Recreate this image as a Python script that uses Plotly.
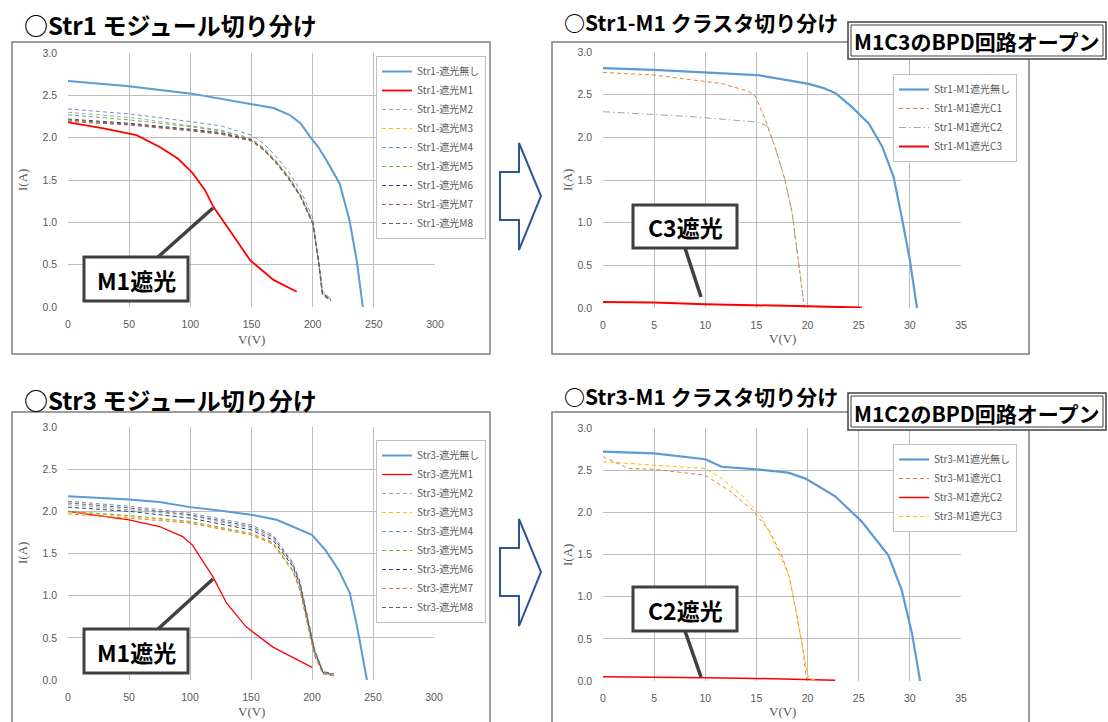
import plotly.graph_objects as go

W, H = 1108, 722

# ---------------- Panel 1 : Str1 module separation ----------------
p1_v_none = [0, 48, 101, 124, 149, 168, 181, 190, 198, 205, 211, 222, 230, 236, 241]
p1_i_none = [2.67, 2.61, 2.52, 2.46, 2.40, 2.35, 2.27, 2.17, 2.01, 1.88, 1.74, 1.46, 1.03, 0.55, 0.0]
p1_v_m1 = [0, 29, 56, 75, 90, 102, 112, 119, 130, 149, 168, 187]
p1_i_m1 = [2.18, 2.11, 2.03, 1.89, 1.75, 1.58, 1.38, 1.18, 0.95, 0.55, 0.32, 0.18]
p1_v_cluster = [0, 50, 100, 125, 150, 160, 170, 180, 190, 200, 205, 208, 215]
p1_i_m2 = [2.30, 2.24, 2.14, 2.09, 1.99, 1.88, 1.73, 1.55, 1.33, 1.02, 0.52, 0.16, 0.08]
p1_i_m3 = [2.20, 2.16, 2.09, 2.05, 1.97, 1.86, 1.70, 1.52, 1.30, 0.98, 0.50, 0.15, 0.07]
p1_i_m4 = [2.34, 2.28, 2.19, 2.14, 2.03, 1.93, 1.78, 1.60, 1.38, 1.06, 0.56, 0.19, 0.09]
p1_i_m5 = [2.27, 2.21, 2.13, 2.08, 1.98, 1.87, 1.72, 1.54, 1.32, 1.00, 0.52, 0.17, 0.10]
p1_i_m6 = [2.22, 2.17, 2.10, 2.06, 1.97, 1.86, 1.71, 1.53, 1.31, 0.99, 0.51, 0.16, 0.08]
p1_i_m7 = [2.19, 2.15, 2.08, 2.04, 1.96, 1.85, 1.70, 1.52, 1.30, 0.98, 0.50, 0.14, 0.07]
p1_i_m8 = [2.21, 2.16, 2.09, 2.05, 1.97, 1.86, 1.71, 1.53, 1.31, 1.00, 0.51, 0.15, 0.08]

# ---------------- Panel 2 : Str1-M1 cluster separation ----------------
p2_v_none = [0, 5, 15.1, 20, 21.5, 22.7, 24.3, 26, 27.3, 28.4, 29.2, 30.0, 30.7]
p2_i_none = [2.81, 2.79, 2.73, 2.63, 2.58, 2.52, 2.36, 2.16, 1.89, 1.54, 1.07, 0.56, 0.0]
p2_v_c1 = [0, 5, 11.6, 14.2, 14.9, 15.9, 16.8, 17.8, 18.5, 18.9, 19.3, 19.7]
p2_i_c1 = [2.76, 2.73, 2.63, 2.54, 2.48, 2.20, 1.89, 1.50, 1.11, 0.72, 0.37, 0.0]
p2_v_c2 = [0, 9, 14.9, 16.0, 16.4, 16.9, 17.8, 18.5, 18.9, 19.3, 19.7]
p2_i_c2 = [2.30, 2.24, 2.18, 2.14, 2.02, 1.86, 1.50, 1.11, 0.72, 0.37, 0.0]
p2_v_c3 = [0, 5, 10, 15, 20, 25.3]
p2_i_c3 = [0.07, 0.065, 0.045, 0.035, 0.02, 0.005]

# ---------------- Panel 3 : Str3 module separation ----------------
p3_v_none = [0, 50, 75, 100, 124, 150, 171, 184, 200, 211, 222, 231, 237, 245]
p3_i_none = [2.18, 2.14, 2.11, 2.05, 2.01, 1.96, 1.90, 1.82, 1.72, 1.54, 1.30, 1.03, 0.63, 0.0]
p3_v_m1 = [0, 50, 75, 94, 102, 110, 119, 130, 146, 168, 200]
p3_i_m1 = [2.00, 1.90, 1.82, 1.70, 1.60, 1.42, 1.22, 0.91, 0.63, 0.39, 0.15]
p3_v_cluster = [0, 50, 100, 150, 168, 184, 190, 196, 202, 209, 218]
p3_i_m2 = [2.08, 2.02, 1.95, 1.80, 1.68, 1.36, 1.14, 0.74, 0.34, 0.09, 0.06]
p3_i_m3 = [1.99, 1.94, 1.87, 1.73, 1.62, 1.30, 1.08, 0.69, 0.30, 0.07, 0.05]
p3_i_m4 = [2.12, 2.06, 1.98, 1.84, 1.72, 1.40, 1.18, 0.78, 0.37, 0.10, 0.07]
p3_i_m5 = [2.00, 1.95, 1.88, 1.74, 1.63, 1.31, 1.09, 0.70, 0.31, 0.08, 0.05]
p3_i_m6 = [2.05, 2.00, 1.92, 1.78, 1.66, 1.35, 1.13, 0.74, 0.34, 0.09, 0.06]
p3_i_m7 = [1.97, 1.92, 1.86, 1.72, 1.61, 1.29, 1.07, 0.68, 0.29, 0.07, 0.05]
p3_i_m8 = [2.10, 2.04, 1.96, 1.82, 1.70, 1.38, 1.16, 0.76, 0.36, 0.10, 0.07]

# ---------------- Panel 4 : Str3-M1 cluster separation ----------------
p4_v_none = [0, 5, 10, 11.6, 15, 18.1, 19.8, 22.7, 25.3, 27.9, 29.2, 30.2, 31.0]
p4_i_none = [2.72, 2.70, 2.63, 2.54, 2.51, 2.47, 2.40, 2.19, 1.89, 1.49, 1.08, 0.57, 0.0]
p4_v_c1 = [0, 2.5, 5, 10, 12.3, 14.6, 16.2, 17.4, 18.2, 18.8, 19.5, 19.9]
p4_i_c1 = [2.66, 2.52, 2.51, 2.44, 2.26, 2.03, 1.79, 1.51, 1.24, 0.88, 0.41, 0.02]
p4_v_c2 = [0, 5, 10, 15, 20, 22.7]
p4_i_c2 = [0.05, 0.048, 0.04, 0.03, 0.02, 0.01]
p4_v_c3 = [0, 2.5, 10, 11.6, 13.9, 15.5, 17.1, 18.2, 18.8, 19.5, 20.1, 20.9]
p4_i_c3 = [2.60, 2.58, 2.52, 2.40, 2.17, 1.95, 1.55, 1.24, 0.88, 0.41, 0.02, 0.02]

# colours (Excel palette)
C_BLUE = "#5B9BD5"
C_RED = "#FF0000"
C_GRAY = "#A5A5A5"
C_YEL = "#FFC000"
C_BLUE2 = "#6F8FC8"
C_GREEN = "#70AD47"
C_DBLUE = "#264478"
C_BROWN = "#C0504D"
C_DGRAY = "#636363"
C_ORANGE = "#ED7D31"

DASH = "4px,3px"
DASHDOT = "7px,3px,1.5px,3px"

fig = go.Figure()

def add(x, y, name, color, width, dash, ax, leg):
    fig.add_trace(go.Scatter(x=x, y=y, name=name, mode="lines",
                             line=dict(color=color, width=width, dash=dash),
                             xaxis="x" + ax, yaxis="y" + ax, legend=leg))

# panel 1
add(p1_v_none, p1_i_none, "Str1-遮光無し", C_BLUE, 2, "solid", "", "legend")
add(p1_v_m1, p1_i_m1, "Str1-遮光M1", C_RED, 1.8, "solid", "", "legend")
for nm, arr, col in [("M2", p1_i_m2, C_GRAY), ("M3", p1_i_m3, C_YEL), ("M4", p1_i_m4, C_BLUE2),
                     ("M5", p1_i_m5, C_GREEN), ("M6", p1_i_m6, C_DBLUE), ("M7", p1_i_m7, C_BROWN),
                     ("M8", p1_i_m8, C_DGRAY)]:
    add(p1_v_cluster, arr, "Str1-遮光" + nm, col, 1, DASH, "", "legend")

# panel 2
add(p2_v_none, p2_i_none, "Str1-M1遮光無し", C_BLUE, 2.2, "solid", "2", "legend2")
add(p2_v_c1, p2_i_c1, "Str1-M1遮光C1", C_ORANGE, 1, DASH, "2", "legend2")
add(p2_v_c2, p2_i_c2, "Str1-M1遮光C2", C_GRAY, 1, DASHDOT, "2", "legend2")
add(p2_v_c3, p2_i_c3, "Str1-M1遮光C3", C_RED, 2, "solid", "2", "legend2")

# panel 3
add(p3_v_none, p3_i_none, "Str3-遮光無し", C_BLUE, 2, "solid", "3", "legend3")
add(p3_v_m1, p3_i_m1, "Str3-遮光M1", C_RED, 1.3, "solid", "3", "legend3")
for nm, arr, col in [("M2", p3_i_m2, C_GRAY), ("M3", p3_i_m3, C_YEL), ("M4", p3_i_m4, C_BLUE2),
                     ("M5", p3_i_m5, C_GREEN), ("M6", p3_i_m6, C_DBLUE), ("M7", p3_i_m7, C_ORANGE),
                     ("M8", p3_i_m8, C_DGRAY)]:
    add(p3_v_cluster, arr, "Str3-遮光" + nm, col, 1, DASH, "3", "legend3")

# panel 4
add(p4_v_none, p4_i_none, "Str3-M1遮光無し", C_BLUE, 2.2, "solid", "4", "legend4")
add(p4_v_c1, p4_i_c1, "Str3-M1遮光C1", C_ORANGE, 1, DASH, "4", "legend4")
add(p4_v_c2, p4_i_c2, "Str3-M1遮光C2", C_RED, 1.5, "solid", "4", "legend4")
add(p4_v_c3, p4_i_c3, "Str3-M1遮光C3", C_YEL, 1, DASH, "4", "legend4")

def px(x):
    return x / W

def py(y):
    return 1 - y / H

TICKFONT = dict(family="Liberation Sans, Arial", size=10.5, color="#595959")
GRID = "#BDBDBD"

def xax(x0, x1, rng, dt):
    return dict(domain=[px(x0), px(x1)], range=rng, dtick=dt, tick0=0, showgrid=True,
                gridcolor=GRID, gridwidth=1, zeroline=False, showline=False, automargin=False,
                tickfont=TICKFONT, ticks="", ticklabelstandoff=9, fixedrange=True)

def yax(y0, y1, anchor):
    return dict(domain=[py(y0), py(y1)], range=[0, 3], dtick=0.5, tick0=0, tickformat=".1f",
                showgrid=True, gridcolor=GRID, gridwidth=1, zeroline=False, showline=False,
                automargin=False, tickfont=TICKFONT, ticks="", ticklabelstandoff=10,
                anchor=anchor, fixedrange=True)

LEGFONT = dict(family="Noto Sans CJK JP", size=10, color="#595959")

def leg(x, y):
    return dict(x=px(x), y=py(y), xanchor="left", yanchor="top", bgcolor="white",
                bordercolor="#BFBFBF", borderwidth=1, font=LEGFONT, itemwidth=30,
                tracegroupgap=0)

fig.update_layout(
    width=W, height=H, margin=dict(l=0, r=0, t=0, b=0, autoexpand=False),
    paper_bgcolor="white", plot_bgcolor="white", showlegend=True,
    xaxis=dict(xax(68, 435, [0, 300], 50), anchor="y"),
    yaxis=yax(307, 53, "x"),
    xaxis2=dict(xax(603, 961, [0, 35], 5), anchor="y2"),
    yaxis2=yax(308, 52, "x2"),
    xaxis3=dict(xax(68, 434, [0, 300], 50), anchor="y3"),
    yaxis3=yax(680, 427, "x3"),
    xaxis4=dict(xax(603, 961, [0, 35], 5), anchor="y4"),
    yaxis4=yax(681, 428, "x4"),
    legend=leg(376, 56),
    legend2=leg(893, 74),
    legend3=leg(376, 440),
    legend4=leg(893, 444),
)

shapes = []
annotations = []

def rect(x0, y0, x1, y1, color, width, fill=None):
    shapes.append(dict(type="rect", xref="paper", yref="paper", x0=px(x0), x1=px(x1),
                       y0=py(y0), y1=py(y1), line=dict(color=color, width=width),
                       fillcolor=fill if fill else "rgba(0,0,0,0)", layer="above"))

def line(x0, y0, x1, y1, color, width):
    shapes.append(dict(type="line", xref="paper", yref="paper", x0=px(x0), x1=px(x1),
                       y0=py(y0), y1=py(y1), line=dict(color=color, width=width), layer="above"))

def text(x, y, s, size, color="black", family="Noto Sans CJK JP", xanchor="center", angle=0):
    annotations.append(dict(x=px(x), y=py(y), xref="paper", yref="paper", text=s,
                            showarrow=False, xanchor=xanchor, yanchor="middle",
                            textangle=angle, font=dict(family=family, size=size, color=color)))

# panel frames
rect(12, 42, 490, 354, "#7F7F7F", 1.5)
rect(552, 42, 1029, 354, "#7F7F7F", 1.5)
rect(12, 412, 490, 726, "#7F7F7F", 1.5)
rect(552, 412, 1029, 726, "#7F7F7F", 1.5)

# titles
text(22, 24, "<b>○Str1 モジュール切り分け</b>", 24, xanchor="left")
text(562, 22, "<b>○Str1-M1 クラスタ切り分け</b>", 21, xanchor="left")
text(22, 399, "<b>○Str3 モジュール切り分け</b>", 24, xanchor="left")
text(562, 396, "<b>○Str3-M1 クラスタ切り分け</b>", 21, xanchor="left")

# BPD boxes (double border)
for (y0, y1, s) in [(22, 59, "<b>M1C3のBPD回路オープン</b>"), (393, 430, "<b>M1C2のBPD回路オープン</b>")]:
    rect(848, y0, 1106, y1, "#404040", 1.5, "white")
    rect(851, y0 + 3, 1103, y1 - 3, "#404040", 1)
    text(977, (y0 + y1) / 2 + 1, s, 21)

# axis titles
SERIF = "Liberation Serif, Times New Roman"
for (x, y) in [(22, 180), (567, 180), (22, 553), (567, 555)]:
    text(x, y, "I(A)", 13, color="#595959", family=SERIF, angle=-90)
for (x, y) in [(251, 339), (782, 338), (251, 711), (782, 711)]:
    text(x, y, "V(V)", 13, color="#595959", family=SERIF)

# block arrows
def arrow(yc):
    pts = [(500, yc - 24), (519, yc - 24), (519, yc - 53), (541, yc), (519, yc + 54),
           (519, yc + 24), (500, yc + 24)]
    path = "M " + " L ".join(f"{px(a):.5f},{py(b):.5f}" for a, b in pts) + " Z"
    shapes.append(dict(type="path", xref="paper", yref="paper", path=path,
                       line=dict(color="#2F5597", width=2), fillcolor="white", layer="above"))

arrow(196)
arrow(572)

# callouts
def callout(bx0, by0, bx1, by1, lx0, ly0, lx1, ly1, s):
    line(lx0, ly0, lx1, ly1, "#404040", 3.5)
    rect(bx0, by0, bx1, by1, "#404040", 3, "white")
    text((bx0 + bx1) / 2, (by0 + by1) / 2 + 1, "<b>" + s + "</b>", 23)

callout(84, 257, 188, 301, 158, 257, 213, 208, "M1遮光")
callout(633, 205, 737, 248, 685, 248, 701, 297, "C3遮光")
callout(84, 629, 188, 673, 158, 629, 213, 579, "M1遮光")
callout(633, 587, 737, 631, 685, 631, 701, 677, "C2遮光")

fig.update_layout(shapes=shapes, annotations=annotations)

fig.write_html("out.html", config={"displayModeBar": False},
               post_script="document.body.style.margin='0';document.body.style.overflow='hidden';")
